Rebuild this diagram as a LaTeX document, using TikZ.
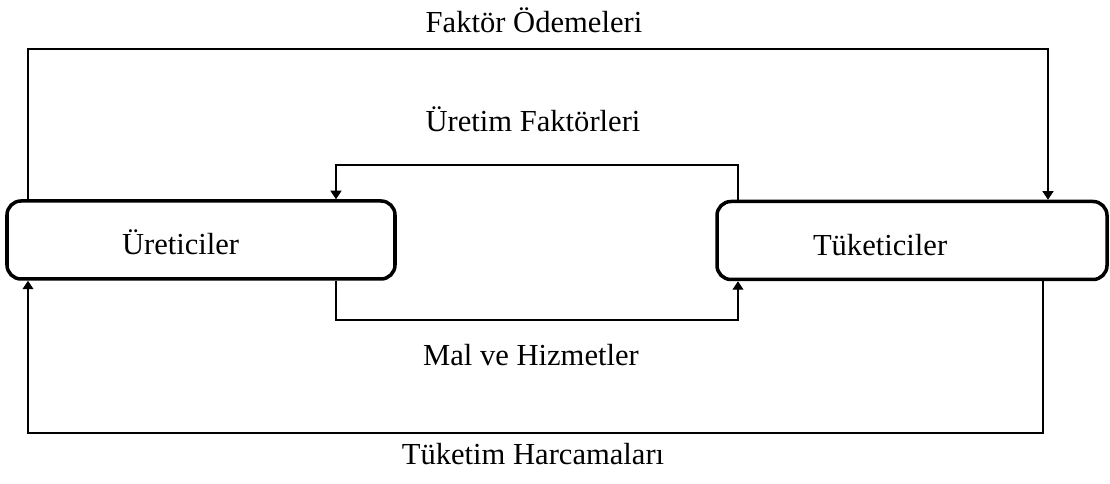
\documentclass[tikz,border=0pt]{standalone}
\usepackage{fontspec}
\setmainfont{Liberation Serif}
\usetikzlibrary{arrows.meta}

\begin{document}
\begin{tikzpicture}[
  font=\fontsize{17.4}{20}\selectfont,
  kutu/.style={draw, line width=2pt, rounded corners=0.28cm, minimum height=1.56cm,
    align=left, text height=0.6cm, text depth=0cm, inner ysep=0pt},
  akis/.style={line width=0.6pt, -{Triangle[width=0.22cm,length=0.17cm]}},
  etiket/.style={anchor=base, inner sep=0pt}
]
\useasboundingbox[fill=white] (0,0) rectangle (22.2,9.68);
\node[kutu, minimum width=7.76cm, inner xsep=2.3cm, text width=3.16cm] (ureticiler) at (4.02,4.88) {Üreticiler};
\node[kutu, minimum width=7.8cm, inner xsep=1.92cm, text width=3.96cm] (tuketiciler) at (18.24,4.87) {Tüketiciler};
% koseler
\coordinate (solust) at (0.56,8.70);
\coordinate (sagust) at (20.96,8.70);
\coordinate (icust) at (6.72,6.38);
\coordinate (icustsag) at (14.76,6.38);
\coordinate (icalt) at (6.72,3.28);
\coordinate (icaltsag) at (14.76,3.28);
\coordinate (solalt) at (0.56,1.02);
\coordinate (sagalt) at (20.86,1.02);
\draw[akis] (ureticiler.north -| solust) -- (solust) -- (sagust) -- (tuketiciler.north -| sagust);
\draw[akis] (tuketiciler.north -| icustsag) -- (icustsag) -- (icust) -- (ureticiler.north -| icust);
\draw[akis] (ureticiler.south -| icalt) -- (icalt) -- (icaltsag) -- (tuketiciler.south -| icaltsag);
\draw[akis] (tuketiciler.south -| sagalt) -- (sagalt) -- (solalt) -- (ureticiler.south -| solalt);
\node[etiket] (fodeme) at (10.68,9.02) {Faktör Ödemeleri};
\node[etiket] (ufaktor) at (10.66,7.04) {Üretim Faktörleri};
\node[etiket] (malhiz) at (10.62,2.36) {Mal ve Hizmetler};
\node[etiket] (tharcama) at (10.66,0.38) {Tüketim Harcamaları};
\end{tikzpicture}
\end{document}
